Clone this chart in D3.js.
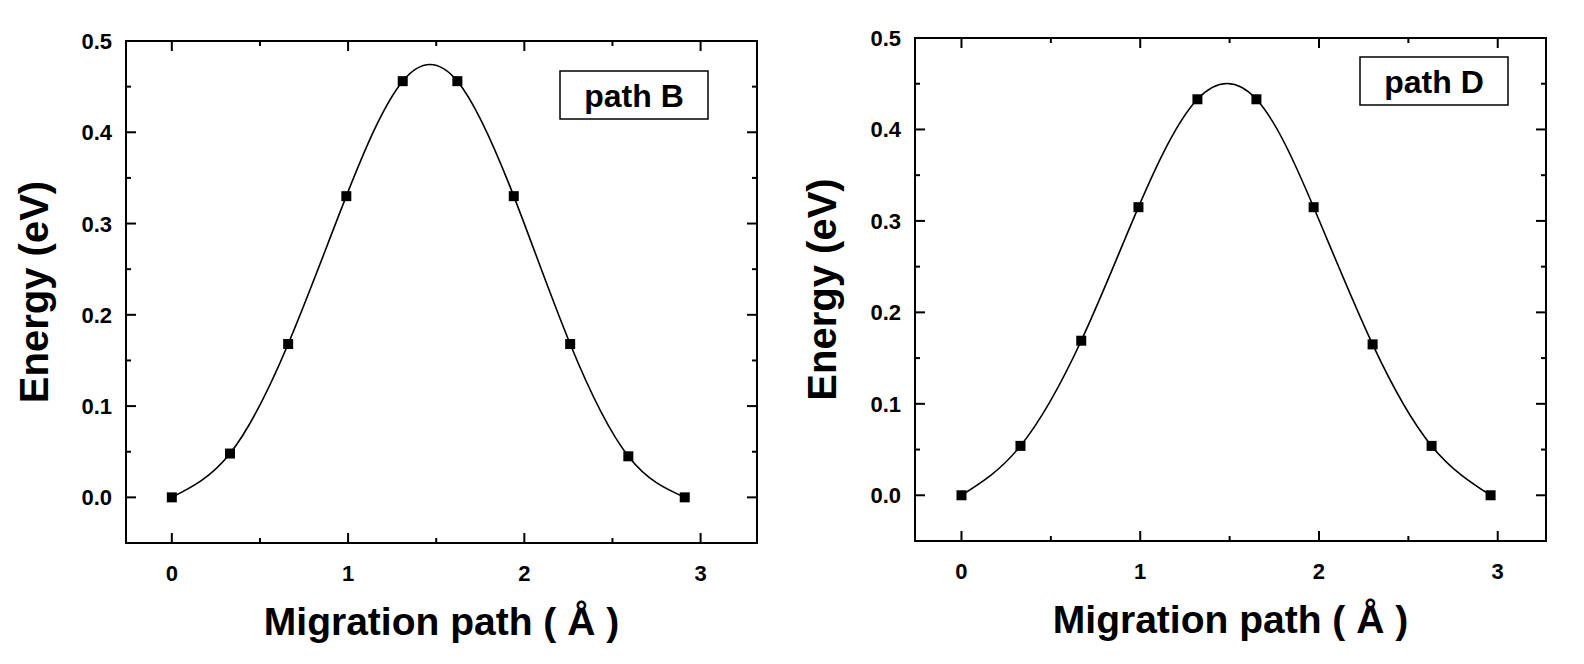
<!DOCTYPE html><html><head><meta charset="utf-8"><script src="https://cdn.jsdelivr.net/npm/d3@7"></script>
<style>body{margin:0;background:#fff}text{font-family:Arial,"Liberation Sans",sans-serif;font-weight:bold}</style></head><body>
<svg id="c" width="1584" height="664"></svg>
<script>
const xB=[0,0.33,0.66,0.99,1.31,1.62,1.94,2.26,2.59,2.91];
const yB=[0,0.048,0.168,0.33,0.456,0.456,0.33,0.168,0.045,0.0];
const xD=[0,0.33,0.67,0.99,1.32,1.65,1.97,2.30,2.63,2.96];
const yD=[0,0.054,0.169,0.315,0.433,0.433,0.315,0.165,0.054,0.0];
const xTicks=[0,1,2,3];
const yTicks=[0.0,0.1,0.2,0.3,0.4,0.5];
const labels=["path B","path D"];
const svg=d3.select("#c");
function panel(xs,ys,label,L,R,T,B,xmin,xmax,legX,legY,legW,ylabX){
  const x=d3.scaleLinear().domain([xmin,xmax]).range([L,R]);
  const y=d3.scaleLinear().domain([-0.05,0.5]).range([B,T]);
  const g=svg.append("g");
  g.append("rect").attr("x",L).attr("y",T).attr("width",R-L).attr("height",B-T).attr("fill","none").attr("stroke","#000").attr("stroke-width",2);
  const minorX=d3.range(0,3.01,0.5), minorY=d3.range(0,0.501,0.05);
  minorX.forEach(v=>{const M=Math.abs(v-Math.round(v))<1e-6,l=M?10:5;
    g.append("line").attr("x1",x(v)).attr("x2",x(v)).attr("y1",B).attr("y2",B-l).attr("stroke","#000").attr("stroke-width",2);
    g.append("line").attr("x1",x(v)).attr("x2",x(v)).attr("y1",T).attr("y2",T+l).attr("stroke","#000").attr("stroke-width",2);});
  minorY.forEach(v=>{const M=Math.abs(v*10-Math.round(v*10))<1e-6,l=M?10:5;
    g.append("line").attr("x1",L).attr("x2",L+l).attr("y1",y(v)).attr("y2",y(v)).attr("stroke","#000").attr("stroke-width",2);
    g.append("line").attr("x1",R).attr("x2",R-l).attr("y1",y(v)).attr("y2",y(v)).attr("stroke","#000").attr("stroke-width",2);});
  xTicks.forEach(v=>g.append("text").attr("x",x(v)).attr("y",B+38).attr("text-anchor","middle").attr("font-size",22).text(v));
  yTicks.forEach(v=>g.append("text").attr("x",L-14).attr("y",y(v)+8).attr("text-anchor","end").attr("font-size",22).text(v.toFixed(1)));
  g.append("text").attr("x",(L+R)/2).attr("y",B+92).attr("text-anchor","middle").attr("font-size",39).text("Migration path ( Å )");
  g.append("text").attr("transform",`translate(${ylabX},${(T+B)/2}) rotate(-90)`).attr("text-anchor","middle").attr("font-size",40).text("Energy (eV)");
  const pts=xs.map((d,i)=>[d,ys[i]]);
  g.append("path").attr("d",d3.line().x(d=>x(d[0])).y(d=>y(d[1])).curve(d3.curveNatural)(pts)).attr("fill","none").attr("stroke","#000").attr("stroke-width",1.6);
  g.selectAll(null).data(pts).enter().append("rect").attr("x",d=>x(d[0])-5).attr("y",d=>y(d[1])-5).attr("width",10).attr("height",10).attr("fill","#000");
  g.append("rect").attr("x",legX).attr("y",legY).attr("width",legW).attr("height",48).attr("fill","#fff").attr("stroke","#000").attr("stroke-width",1.5);
  g.append("text").attr("x",legX+legW/2).attr("y",legY+36).attr("text-anchor","middle").attr("font-size",32).text(label);
}
panel(xB,yB,labels[0],126,757,41,543,-0.26,3.32,560,71,148,48);
panel(xD,yD,labels[1],915,1546,38,541,-0.26,3.27,1360,57,148,836);
</script></body></html>
